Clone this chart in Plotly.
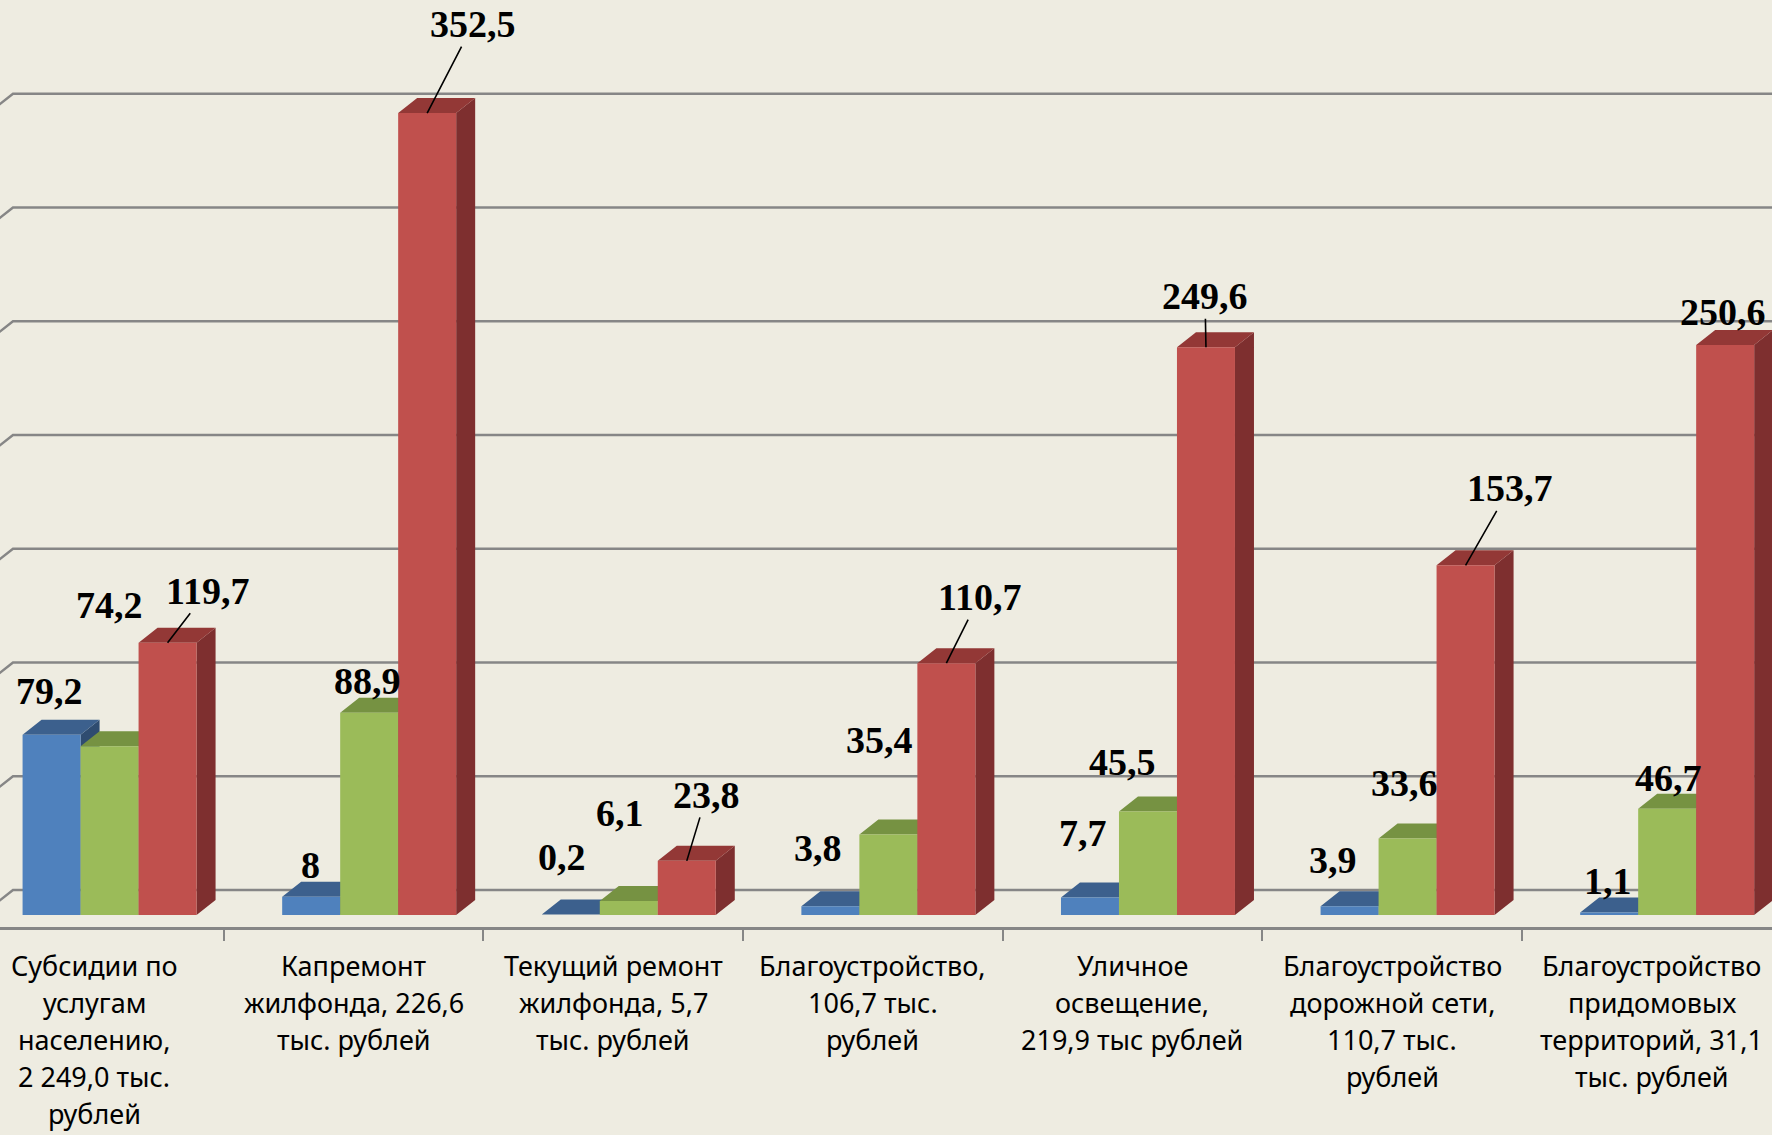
import plotly.graph_objects as go

# ---------------- data ----------------
categories = [
    "Субсидии по<br>услугам<br>населению,<br>2 249,0 тыс.<br>рублей",
    "Капремонт<br>жилфонда, 226,6<br>тыс. рублей",
    "Текущий ремонт<br>жилфонда, 5,7<br>тыс. рублей",
    "Благоустройство,<br>106,7 тыс.<br>рублей",
    "Уличное<br>освещение,<br>219,9 тыс рублей",
    "Благоустройство<br>дорожной сети,<br>110,7 тыс.<br>рублей",
    "Благоустройство<br>придомовых<br>территорий, 31,1<br>тыс. рублей",
]
blue_values = [79.2, 8, 0.2, 3.8, 7.7, 3.9, 1.1]
green_values = [74.2, 88.9, 6.1, 35.4, 45.5, 33.6, 46.7]
red_values = [119.7, 352.5, 23.8, 110.7, 249.6, 153.7, 250.6]
grid_values = [0, 50, 100, 150, 200, 250, 300, 350]

# label offsets (pixels, relative to bar front-top centre) -- style, not data
blue_label_off = [(-2, -44), (-1, -32), (-9, -58), (-12, -58), (-7, -64), (-17, -46), (-1, -32)]
green_label_off = [(0, -141), (-2, -32), (-9, -88), (-9, -94), (-25, -49), (-3, -56), (1, -31)]
red_label_off = [(40, -52), (46, -89), (20, -66), (33, -66), (-1, -51), (44, -77), (-2, -33)]
red_leader = [True, True, True, True, True, True, False]

# ---------------- geometry / style ----------------
W, H = 1772, 1135
PX_PER_CAT = 259.6
CAT0_PX = 94.0
PX_PER_UNIT = 2.275
BASE_PX = 915.0
PLOT_BOTTOM_PX = 927.0
LABEL_FIRST_LINE_PX = 965.0
LABEL_LINE_STEP = 37.0

x_range = [(0 - CAT0_PX) / PX_PER_CAT, (W - CAT0_PX) / PX_PER_CAT]
y_range = [-(PLOT_BOTTOM_PX - BASE_PX) / PX_PER_UNIT, BASE_PX / PX_PER_UNIT]

bar_w = 58 / PX_PER_CAT
ddx = 19 / PX_PER_CAT
ddy = 15 / PX_PER_UNIT
back_off = 25 / PX_PER_UNIT          # back wall offset (units)
front_off = -(PLOT_BOTTOM_PX - BASE_PX) / PX_PER_UNIT

series = [
    dict(vals=blue_values, off=-0.1634, front="#4F81BD", top="#3C608D", side="#2F4C70", lab=blue_label_off),
    dict(vals=green_values, off=0.06, front="#9BBB59", top="#769242", side="#627A34", lab=green_label_off),
    dict(vals=red_values, off=0.2834, front="#C0504D", top="#933836", side="#7E2F2F", lab=red_label_off),
]

BG = "#EEECE1"
GRID = "#868686"

fig = go.Figure()

# gridlines on back wall with diagonal on left wall
wall_back_x = (13 - CAT0_PX) / PX_PER_CAT
wall_front_x = wall_back_x - (back_off - front_off) * PX_PER_UNIT * (19 / 15) / PX_PER_CAT
gx, gy = [], []
for v in grid_values:
    gx += [wall_front_x, wall_back_x, x_range[1] + 0.1, None]
    gy += [v + front_off, v + back_off, v + back_off, None]
fig.add_trace(go.Scatter(x=gx, y=gy, mode="lines", line=dict(color=GRID, width=2.5),
                         hoverinfo="skip", showlegend=False))

# 3D bars as polygons
for s in series:
    fx, fy, tx, ty, sx, sy = [], [], [], [], [], []
    for k, v in enumerate(s["vals"]):
        x0 = k + s["off"] - bar_w / 2
        x1 = x0 + bar_w
        sx += [x1, x1 + ddx, x1 + ddx, x1, x1, None]
        sy += [0, ddy, v + ddy, v, 0, None]
        tx += [x0, x1, x1 + ddx, x0 + ddx, x0, None]
        ty += [v, v, v + ddy, v + ddy, v, None]
        fx += [x0, x1, x1, x0, x0, None]
        fy += [0, 0, v, v, 0, None]
    for xs, ys, col in [(sx, sy, s["side"]), (tx, ty, s["top"]), (fx, fy, s["front"])]:
        fig.add_trace(go.Scatter(x=xs, y=ys, mode="lines", fill="toself", fillcolor=col,
                                 line=dict(width=0, color=col), hoverinfo="skip", showlegend=False))


def fmt(v):
    if float(v).is_integer():
        return str(int(v))
    return f"{v:.1f}".replace(".", ",")


annotations = []
for si, s in enumerate(series):
    for k, v in enumerate(s["vals"]):
        dx, dy = s["lab"][k]
        leader = si == 2 and red_leader[k]
        annotations.append(dict(
            x=k + s["off"], y=v, xref="x", yref="y",
            text=f"<b>{fmt(v)}</b>", showarrow=True, ax=dx, ay=dy,
            axref="pixel", ayref="pixel",
            arrowhead=0, arrowwidth=1.6, standoff=0, startstandoff=0,
            arrowcolor="black" if leader else "rgba(0,0,0,0)",
            font=dict(family="Liberation Serif", size=38, color="black"),
        ))

# category labels, one annotation per line for the original's line spacing
for k, c in enumerate(categories):
    for li, line in enumerate(c.split("<br>")):
        annotations.append(dict(
            x=k, y=0, xref="x", yref="paper", yanchor="middle",
            yshift=-(LABEL_FIRST_LINE_PX - PLOT_BOTTOM_PX + li * LABEL_LINE_STEP),
            text=line, showarrow=False, align="center",
            font=dict(family="Noto Sans", size=27, color="black"),
        ))

fig.update_layout(
    width=W, height=H,
    margin=dict(l=0, r=0, t=0, b=H - PLOT_BOTTOM_PX, pad=0),
    paper_bgcolor=BG, plot_bgcolor=BG,
    showlegend=False,
    xaxis=dict(range=x_range, showgrid=False, zeroline=False, showticklabels=False,
               tickmode="array", tickvals=[k + 0.5 for k in range(-1, 7)],
               ticks="outside", ticklen=11, tickwidth=1.5, tickcolor=GRID,
               showline=True, linecolor=GRID, linewidth=2.5, fixedrange=True),
    yaxis=dict(range=y_range, showgrid=False, zeroline=False, showticklabels=False,
               showline=False, fixedrange=True),
    annotations=annotations,
)

fig.write_html("out.html", config={"displayModeBar": False},
               post_script="document.body.style.margin='0';document.body.style.overflow='hidden';"
                           "document.body.style.background='" + BG + "';")
